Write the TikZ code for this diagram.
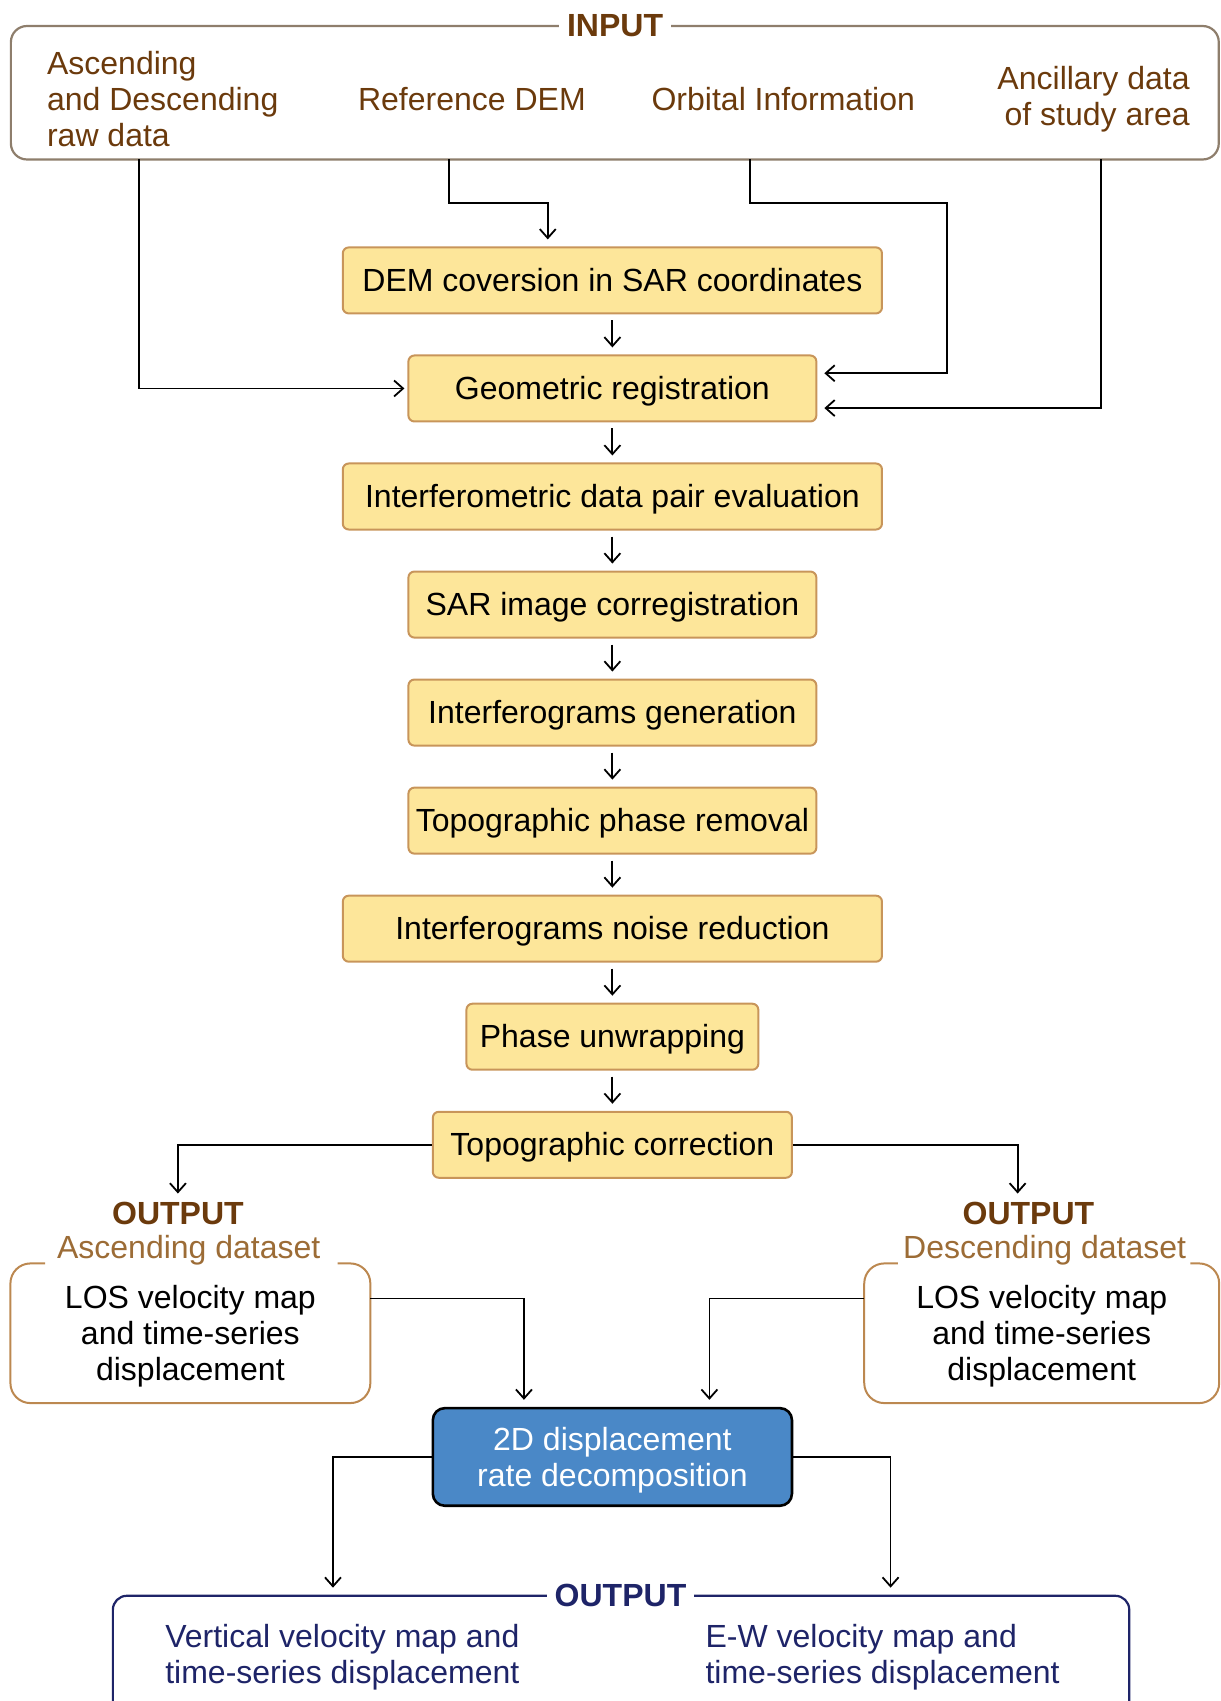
\documentclass[tikz,border=0pt]{standalone}
\usepackage{fontspec}
\setmainfont{Liberation Sans}
\usetikzlibrary{arrows.meta, positioning}
\definecolor{inbrown}{HTML}{6B3A0C}
\definecolor{ingray}{HTML}{8E7E6C}
\definecolor{procfill}{HTML}{FDE69A}
\definecolor{procdraw}{HTML}{C8955A}
\definecolor{dsetdraw}{HTML}{BC8850}
\definecolor{dsettext}{HTML}{9C6C36}
\definecolor{ddfill}{HTML}{4A88C7}
\definecolor{navy}{HTML}{1E2468}

\begin{document}
\begin{tikzpicture}[x = 0.5422pt, y = -0.5422pt, node distance = 54pt,
    	font = \fontsize{16}{18}\selectfont,
    	proc/.style = {draw = procdraw, fill = procfill, line width = 1pt, rounded corners = 3pt,
    		minimum height = 33pt, inner sep = 0pt, text depth = 1pt},
    	wide/.style = {minimum width = 269.5pt},
    	mid/.style = {minimum width = 203.9pt},
    	intext/.style = {text = inbrown},
    	outlbl/.style = {text = inbrown, font = \fontsize{16}{18}\selectfont\bfseries},
    	dset/.style = {minimum width = 179.5pt, minimum height = 69.4pt, align = center, text depth = -2pt},
    	dsetline/.style = {draw = dsetdraw, line width = 1pt, rounded corners = 10pt},
    	edge/.style = {line width = 0.9pt, arrows = {-Straight Barb[length = 4.5pt, width = 8pt]},
    		shorten >= 3.5pt}]
    	\useasboundingbox (0,0) rectangle (1125,1568);
    	\clip (0,0) rectangle (1125,1568);
    	% input block
    	\node[draw = ingray, line width = 1.1pt, rounded corners = 8pt, minimum width = 603.7pt,
    		minimum height = 66.7pt] (inbox) at (566.75,85.5) {};
    	\node[outlbl, fill = white, inner xsep = 4pt] (inlbl) at (567,24) {INPUT};
    	\node[intext, align = left, anchor = west, inner xsep = 0pt] (raw) at (43,91) {Ascending\\and Descending\\raw data};
    	\node[intext] (refdem) at (435,91) {Reference DEM};
    	\node[intext] (orbit) at (722,91) {Orbital Information};
    	\node[intext, align = right, anchor = east, inner xsep = 0pt] (ancil) at (1097,91.5) {Ancillary data\\of study area};
    	\coordinate (in1) at (128,147);
    	\coordinate (in2) at (414,147);
    	\coordinate (in3) at (691,147);
    	\coordinate (in4) at (1015,147);
    	% processing chain
    	\node[proc, wide] (dem) at (564.5,258.5) {DEM coversion in SAR coordinates};
    	\node[proc, mid] (geo) [below of = dem] {Geometric registration};
    	\node[proc, wide] (ipe) [below of = geo] {Interferometric data pair evaluation};
    	\node[proc, mid] (sar) [below of = ipe] {SAR image corregistration};
    	\node[proc, mid] (igen) [below of = sar] {Interferograms generation};
    	\node[proc, mid] (tpr) [below of = igen] {Topographic phase removal};
    	\node[proc, wide] (inr) [below of = tpr] {Interferograms noise reduction};
    	\node[proc, minimum width = 145.9pt] (unw) [below of = inr] {Phase unwrapping};
    	\node[proc, minimum width = 179.5pt] (tc) [below of = unw] {Topographic correction};
    	\draw[edge, shorten >= 1.5pt] (in1) |- (geo);
    	\draw[edge] (in2) -- ++(0,40) -| ([xshift = -32.3pt]dem.north);
    	\draw[edge] (in3) -- ++(0,40) -- ++(182,0) |- ([yshift = 7.6pt]geo.east);
    	\draw[edge] (in4) |- ([yshift = -9.8pt]geo.east);
    	\foreach \a/\b in {dem/geo, geo/ipe, ipe/sar, sar/igen, igen/tpr, tpr/inr, inr/unw, unw/tc}
    		\draw[edge, shorten <= 3pt] (\a) -- (\b);
    	% ascending / descending outputs
    	\node[outlbl] (outA) at (164,1119) {OUTPUT};
    	\node[text = dsettext] (alabel) at (174,1152) {Ascending dataset};
    	\node[outlbl] (outD) at (948,1119) {OUTPUT};
    	\node[text = dsettext] (dlabel) at (963,1152) {Descending dataset};
    	\node[dset] (asc) at (175.5,1229) {LOS velocity map\\and time-series\\displacement};
    	\node[dset, minimum width = 177pt] (desc) at (960.25,1229) {LOS velocity map\\and time-series\\displacement};
    	\draw[dsetline] ([xshift = 17.35pt]asc.north west) -- (asc.north west) -- (asc.south west)
    		-- (asc.south east) -- (asc.north east) -- ([xshift = -16.3pt]asc.north east);
    	\draw[dsetline] ([xshift = 16.8pt]desc.north west) -- (desc.north west) -- (desc.south west)
    		-- (desc.south east) -- (desc.north east) -- ([xshift = -14.4pt]desc.north east);
    	\draw[edge, shorten >= 1pt] (tc.west) -| (outA.north);
    	\draw[edge, shorten >= 1pt] (tc.east) -| ([xshift = -5.4pt]outD.north);
    	% decomposition
    	\node[draw = black, fill = ddfill, text = white, line width = 1.3pt, rounded corners = 6pt,
    		minimum width = 179.5pt, minimum height = 48.8pt, align = center, text depth = -1.4pt] (dd)
    		at (564.5,1343) {2D displacement\\rate decomposition};
    	\draw[edge] ([yshift = 17.35pt]asc.east) -| ([xshift = -44.2pt]dd.north);
    	\draw[edge] ([yshift = 17.35pt]desc.west) -| ([xshift = 48.5pt]dd.north);
    	% final output
    	\node[draw = navy, line width = 1.1pt, rounded corners = 7pt, minimum width = 508pt,
    		minimum height = 80.8pt] (outbox) at (572.5,1545.5) {};
    	\node[text = navy, font = \fontsize{16}{18}\selectfont\bfseries, fill = white, inner xsep = 4pt]
    		(outF) at (572,1471) {OUTPUT};
    	\node[text = navy, align = left, anchor = west, inner xsep = 0pt] (vert) at (152,1527.5) {Vertical velocity map and\\time-series displacement};
    	\node[text = navy, align = left, anchor = west, inner xsep = 0pt] (ew) at (650,1527.5) {E-W velocity map and\\time-series displacement};
    	\draw[edge] (dd.west) -| ([xshift = -144pt]outbox.north);
    	\draw[edge] (dd.east) -| ([xshift = 134.7pt]outbox.north);
    \end{tikzpicture}
\end{document}
